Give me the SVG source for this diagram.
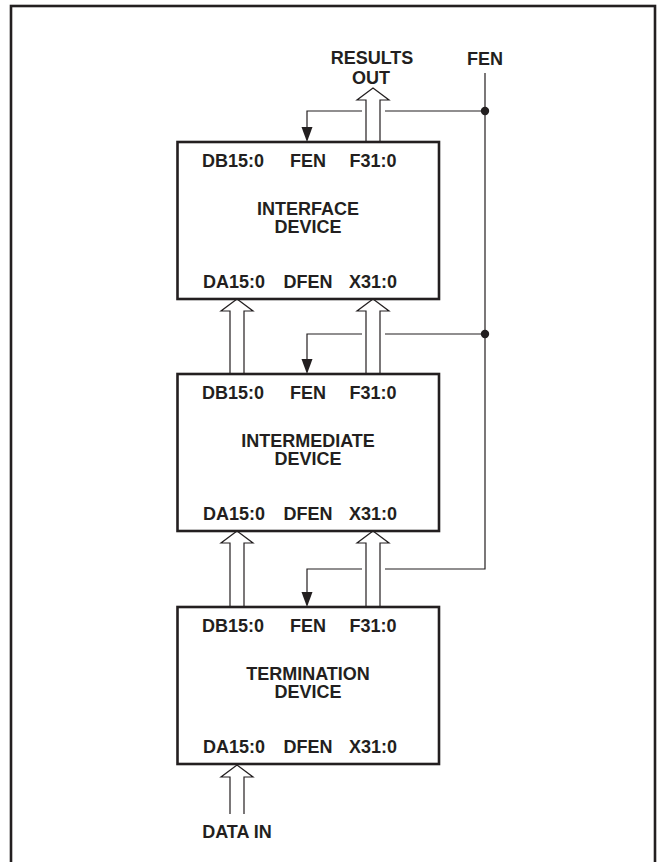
<svg xmlns="http://www.w3.org/2000/svg" width="661" height="862" viewBox="0 0 661 862">
<style>
.frame{fill:none;stroke:#231f20;stroke-width:2.6}
.box{fill:#fff;stroke:#231f20;stroke-width:2.6}
.bus{fill:#fff;stroke:#231f20;stroke-width:1.2;stroke-linejoin:miter}
.wire{fill:none;stroke:#231f20;stroke-width:1.2}
.head{fill:#231f20}
text{font-family:"Liberation Sans",Arial,sans-serif;font-weight:bold;font-size:18px;fill:#231f20;text-anchor:middle}
</style>
<rect class="frame" x="11" y="6" width="644" height="880"/>
<g id="connectors">
  <path class="wire" d="M485,73 V569 H385"/>
  <path class="wire" d="M485,111 H385 M362,111 H307 V130"/>
  <path class="wire" d="M485,334 H385 M362,334 H307 V360"/>
  <path class="wire" d="M362,569 H307 V595"/>
  <polygon class="head" points="301.5,127 312.5,127 307,142"/>
  <polygon class="head" points="301.5,359 312.5,359 307,374"/>
  <polygon class="head" points="301.5,592 312.5,592 307,607"/>
  <circle class="head" cx="485" cy="111" r="4.2"/>
  <circle class="head" cx="485" cy="334" r="4.2"/>
  <polyline class="bus" points="366,142 366,100 357,100 373,88 389,100 380,100 380,142"/>
  <polyline class="bus" points="230,374 230,311 221,311 237,299 253,311 244,311 244,374"/>
  <polyline class="bus" points="366,374 366,311 357,311 373,299 389,311 380,311 380,374"/>
  <polyline class="bus" points="230,607 230,543 221,543 237,531 253,543 244,543 244,607"/>
  <polyline class="bus" points="366,607 366,543 357,543 373,531 389,543 380,543 380,607"/>
  <polyline class="bus" points="230,814 230,777 221,777 237,765 253,777 244,777 244,814"/>
</g>
<g id="labels">
  <text x="372" y="64">RESULTS</text>
  <text x="371" y="83.5">OUT</text>
  <text x="485" y="65">FEN</text>
  <text x="237" y="838">DATA IN</text>
</g>
<g id="interface">
  <rect class="box" x="177.5" y="142" width="261.5" height="157"/>
  <text x="233" y="166.7">DB15:0</text>
  <text x="308" y="166.7">FEN</text>
  <text x="373" y="166.7">F31:0</text>
  <text x="308" y="215">INTERFACE</text>
  <text x="308" y="233.3">DEVICE</text>
  <text x="234" y="288.3">DA15:0</text>
  <text x="308" y="288.3">DFEN</text>
  <text x="373" y="288.3">X31:0</text>
</g>
<g id="intermediate">
  <rect class="box" x="177.5" y="374" width="261.5" height="157"/>
  <text x="233" y="398.7">DB15:0</text>
  <text x="308" y="398.7">FEN</text>
  <text x="373" y="398.7">F31:0</text>
  <text x="308" y="447">INTERMEDIATE</text>
  <text x="308" y="465.3">DEVICE</text>
  <text x="234" y="520.3">DA15:0</text>
  <text x="308" y="520.3">DFEN</text>
  <text x="373" y="520.3">X31:0</text>
</g>
<g id="termination">
  <rect class="box" x="177.5" y="607" width="261.5" height="157"/>
  <text x="233" y="631.7">DB15:0</text>
  <text x="308" y="631.7">FEN</text>
  <text x="373" y="631.7">F31:0</text>
  <text x="308" y="680">TERMINATION</text>
  <text x="308" y="698.3">DEVICE</text>
  <text x="234" y="753.3">DA15:0</text>
  <text x="308" y="753.3">DFEN</text>
  <text x="373" y="753.3">X31:0</text>
</g>
</svg>
